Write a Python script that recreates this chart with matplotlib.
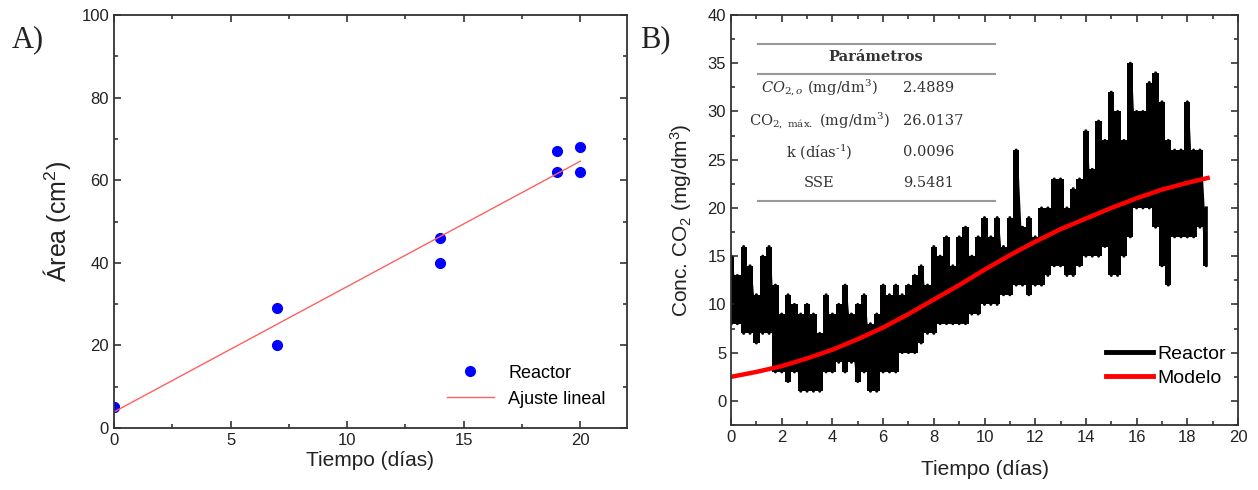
import numpy as np
import matplotlib
matplotlib.use('Agg')
import matplotlib.pyplot as plt
from matplotlib.lines import Line2D
from matplotlib.ticker import MultipleLocator

plt.rcParams['font.family'] = ['Liberation Sans', 'DejaVu Sans']
plt.rcParams['mathtext.fontset'] = 'custom'
plt.rcParams['mathtext.rm'] = 'Liberation Sans'
plt.rcParams['mathtext.it'] = 'Liberation Sans:italic'

# A) area del reactor
tiempo_area = [0, 0, 7, 7, 14, 14, 19, 19, 20, 20]
area = [5.2, 5.0, 29, 20, 46, 40, 67, 62, 68, 62]
ajuste_x = [0, 20]
ajuste_y = [3.9, 64.6]

# B) CO2 (envolvente leida cada 0.25 dias)
t_co2 = [0.00, 0.25, 0.50, 0.75, 1.00, 1.25, 1.50, 1.75, 2.00, 2.25,
         2.50, 2.75, 3.00, 3.25, 3.50, 3.75, 4.00, 4.25, 4.50, 4.75,
         5.00, 5.25, 5.50, 5.75, 6.00, 6.25, 6.50, 6.75, 7.00, 7.25,
         7.50, 7.75, 8.00, 8.25, 8.50, 8.75, 9.00, 9.25, 9.50, 9.75,
         10.00, 10.25, 10.50, 10.75, 11.00, 11.25, 11.50, 11.75, 12.00, 12.25,
         12.50, 12.75, 13.00, 13.25, 13.50, 13.75, 14.00, 14.25, 14.50, 14.75,
         15.00, 15.25, 15.50, 15.75, 16.00, 16.25, 16.50, 16.75, 17.00, 17.25,
         17.50, 17.75, 18.00, 18.25, 18.50, 18.75]
co2_max = [15, 13, 16, 14, 11, 15, 16, 12, 9, 11,
           10, 9, 10, 9, 7, 11, 9, 10, 12, 9,
           10, 11, 8, 9, 12, 11, 12, 11, 12, 13,
           14, 12, 16, 15, 17, 14, 17, 18, 15, 17,
           19, 17, 19, 16, 19, 26, 18, 19, 17, 20,
           20, 23, 23, 20, 22, 23, 28, 24, 29, 27,
           32, 30, 27, 35, 30, 30, 33, 34, 31, 27,
           26, 26, 31, 26, 26, 20]
co2_min = [8, 8, 7, 7, 6, 7, 7, 3, 3, 2,
           3, 1, 1, 1, 1, 3, 3, 4, 3, 4,
           2, 3, 1, 1, 3, 3, 3, 5, 5, 5,
           6, 7, 7, 8, 8, 8, 8, 8, 9, 9,
           10, 10, 10, 11, 11, 12, 12, 11, 12, 12,
           13, 14, 14, 13, 13, 14, 15, 15, 15, 16,
           13, 13, 15, 17, 20, 20, 20, 18, 14, 12,
           17, 17, 17, 17, 18, 14]

t_modelo = [0, 1, 2, 3, 4, 5, 6, 7, 8, 9, 10, 11, 12, 13, 14, 15, 16, 17, 18, 18.8]
co2_modelo = [2.49, 3.0, 3.6, 4.4, 5.3, 6.4, 7.6, 9.0, 10.5, 12.0,
              13.6, 15.1, 16.5, 17.8, 18.9, 20.0, 21.0, 21.9, 22.6, 23.1]

parametros = [r'$CO_{2,o}$ (mg/dm$^3$)', r'CO$_{2,\ \mathrm{máx.}}$ (mg/dm$^3$)',
              r'k (días$^{\text{-}1}$)', 'SSE']
valores = ['2.4889', '26.0137', '0.0096', '9.5481']

fig = plt.figure(figsize=(12.58, 4.90), dpi=100)
ax1 = fig.add_axes([0.0906, 0.1265, 0.4078, 0.8429])
ax2 = fig.add_axes([0.5811, 0.1327, 0.4030, 0.8367])


def estilo(ax):
    for s in ax.spines.values():
        s.set_color('#333333')
        s.set_linewidth(1.3)
    ax.tick_params(which='both', direction='in', top=True, right=True, colors='#333333',
                   labelcolor='#222222', labelsize=12, width=1.2)
    ax.tick_params(which='major', length=5)
    ax.tick_params(which='minor', length=3)


# Panel A
ax1.plot(tiempo_area, area, 'o', color='#0000ff', markersize=7, label='Reactor')
ax1.plot(ajuste_x, ajuste_y, color='#ff6060', lw=1, label='Ajuste lineal')
ax1.set_xlim(0, 22)
ax1.set_ylim(0, 100)
ax1.xaxis.set_major_locator(MultipleLocator(5))
ax1.xaxis.set_minor_locator(MultipleLocator(2.5))
ax1.yaxis.set_major_locator(MultipleLocator(20))
ax1.yaxis.set_minor_locator(MultipleLocator(10))
ax1.set_xlabel('Tiempo (días)', fontsize=15, color='#222222', labelpad=2)
ax1.set_ylabel('Área (cm$^2$)', fontsize=18, color='#222222', labelpad=6)
estilo(ax1)
ax1.legend(loc='lower right', frameon=False, fontsize=13, bbox_to_anchor=(0.99, 0.01),
           handlelength=2.6)

# Panel B
ax2.fill_between(t_co2, co2_min, co2_max, step='mid', color='black', lw=0)
zz_t = np.repeat(t_co2, 2)
zz_y = np.ravel(np.column_stack([co2_min, co2_max]))
ax2.plot(zz_t, zz_y, color='black', lw=2.2)
ax2.plot(t_modelo, co2_modelo, color='#ff0000', lw=3.2)
ax2.set_xlim(0, 20)
ax2.set_ylim(-2.5, 40)
ax2.xaxis.set_major_locator(MultipleLocator(2))
ax2.xaxis.set_minor_locator(MultipleLocator(1))
ax2.yaxis.set_major_locator(MultipleLocator(5))
ax2.yaxis.set_minor_locator(MultipleLocator(2.5))
ax2.set_xlabel('Tiempo (días)', fontsize=15, color='#222222', labelpad=11)
ax2.set_ylabel('Conc. CO$_2$ (mg/dm$^3$)', fontsize=15, color='#222222', labelpad=10)
estilo(ax2)
handles = [Line2D([], [], color='black', lw=3.5), Line2D([], [], color='#ff0000', lw=3.5)]
ax2.legend(handles, ['Reactor', 'Modelo'], loc='lower right', frameon=False, fontsize=14,
           bbox_to_anchor=(1.01, 0.05), handlelength=2.4, handletextpad=0.2, labelspacing=0.35)

# tabla de parametros
for yy in [44, 74, 201]:
    fig.add_artist(Line2D([758 / 1258, 995 / 1258], [(490 - yy) / 490] * 2,
                          color='#999999', lw=1.5))
fig.text(876 / 1258, (490 - 57) / 490, 'Parámetros', family='DejaVu Serif', weight='bold',
         fontsize=10.5, color='#333333', ha='center', va='center')
for i in range(len(parametros)):
    yy = [88, 121, 152, 183][i]
    fig.text(819 / 1258, (490 - yy) / 490, parametros[i], family='DejaVu Serif',
             math_fontfamily='dejavuserif', fontsize=10.5, color='#333333', ha='center', va='center')
    fig.text(903 / 1258, (490 - yy) / 490, valores[i], family='DejaVu Serif', fontsize=10.5,
             color='#333333', ha='left', va='center')

fig.text(12 / 1258, (490 - 40) / 490, 'A)', family='Liberation Serif', fontsize=22,
         color='#222222', va='center')
fig.text(640 / 1258, (490 - 40) / 490, 'B)', family='Liberation Serif', fontsize=22,
         color='#222222', va='center')

fig.savefig('out.png', dpi=100)
